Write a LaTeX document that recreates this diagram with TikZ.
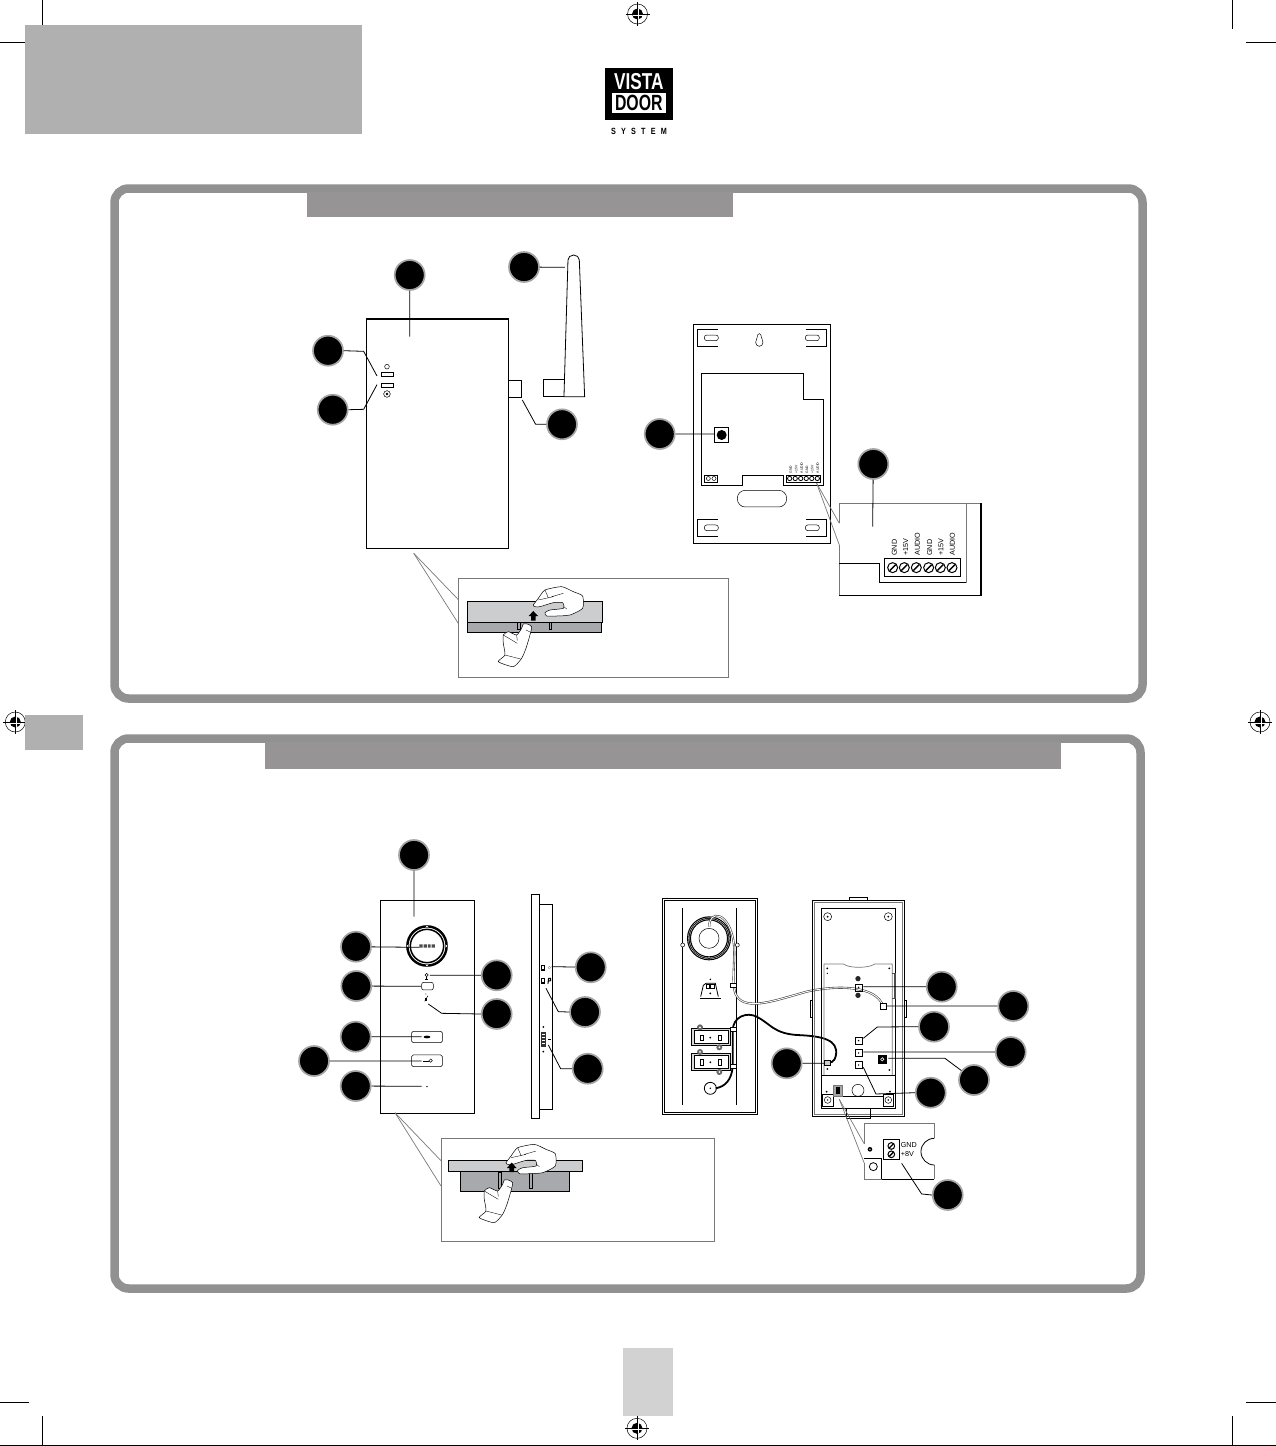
\documentclass[tikz,border=0pt]{standalone}
\usepackage{fontspec}
\setmainfont{Liberation Sans}
\usepackage{xcolor}
\usetikzlibrary{arrows,shapes,positioning}
\definecolor{vdframe}{RGB}{145,145,145}
\definecolor{vdbar}{RGB}{150,148,149}
\definecolor{vdbox}{RGB}{176,176,176}
\definecolor{vdpage}{RGB}{210,210,210}
\definecolor{vdring}{RGB}{165,165,165}
\definecolor{vdplate}{RGB}{204,205,206}
\definecolor{vdplate2}{RGB}{168,169,172}
\definecolor{vdline}{RGB}{120,120,120}
\tikzstyle{callout} = [circle, fill=black, draw=vdring, line width=1.7pt, minimum size=30pt, inner sep=0pt]
\tikzstyle{leader} = [line width=0.8pt, color=black]
\tikzstyle{part} = [line width=0.8pt, draw=black]
\tikzstyle{thin part} = [line width=0.5pt, draw=black]
\tikzstyle{greyline} = [line width=0.7pt, draw=vdline]
\tikzstyle{crop} = [line width=0.9pt, color=black]
\tikzstyle{viewa} = [shift={(290,240)}, x=0.3333pt, y=-0.3333pt]
\tikzstyle{viewb} = [shift={(640,310)}, x=0.3333pt, y=-0.3333pt]
\tikzstyle{viewc} = [shift={(290,830)}, x=0.3333pt, y=-0.3333pt]
\tikzstyle{viewd} = [shift={(650,890)}, x=0.3333pt, y=-0.3333pt]
\tikzset{
  regmark/.pic={
    \draw[line width=0.5pt] (0,0) circle (10pt);
    \fill (0,0) circle (5.5pt);
    \draw[line width=0.8pt] (-12,0) -- (12,0) (0,-12) -- (0,12);
    \draw[white, line width=0.3pt] (-5,1) -- (5,1) (1,-5) -- (1,5);
  },
  tophand/.pic={
    \draw[thin part, fill=white, x=0.3333pt, y=-0.3333pt, tension=0.35] plot[smooth cycle] coordinates {(0,0) (15,-20) (35,-45) (85,-55) (120,-40) (148,-27) (148,10) (110,30) (70,33) (40,33) (35,23) (50,15) (90,10) (88,-7) (60,-7) (20,5) (5,5)};
    \draw[line width=0.35pt, x=0.3333pt, y=-0.3333pt] (35,-45) -- (45,-22) (15,-15) -- (60,-25) (90,-35) -- (55,-25) (92,5) -- (100,12);
  },
  lowhand/.pic={
    \draw[thin part, fill=white, x=0.3333pt, y=-0.3333pt, tension=0.35] plot[smooth cycle] coordinates {(0,0) (13,8) (8,33) (-4,73) (-17,103) (-42,128) (-87,113) (-67,93) (-72,58) (-72,33) (-57,23) (-32,33) (-17,13) (-12,0)};
    \draw[line width=0.35pt, x=0.3333pt, y=-0.3333pt] (-67,93) -- (-20,105) (-4,18) -- (8,24) (-32,33) -- (-30,50) (-72,33) -- (-30,58);
  }
}

\begin{document}
\begin{tikzpicture}[x=1pt, y=-1pt]
\useasboundingbox (0,0) rectangle (1276,1446);

% Printer's marks
\draw[crop] (42,0) -- (42,29) (0,42) -- (29,42);
\draw[crop] (1232,0) -- (1232,29) (1246,42) -- (1276,42);
\draw[crop] (42,1416) -- (42,1446) (0,1402) -- (29,1402);
\draw[crop] (1232,1416) -- (1232,1446) (1246,1402) -- (1276,1402);
\draw[crop] (0,1445.5) -- (1276,1445.5);
\pic at (637.5,14) {regmark};
\pic at (15.3,722) {regmark};
\pic at (1260,722) {regmark};
\pic at (637,1428.3) {regmark};

% Grey blocks
\fill[vdbox] (25,25) rectangle (362,134);
\fill[vdbox] (25,715) rectangle (83,750);
\fill[vdpage] (623,1348) rectangle (673,1416);

% Logo
\fill[black] (605,68.3) rectangle (672.7,120);
\fill[white] (611.7,93.3) rectangle (666,113.3);
\node[text=white, font=\fontsize{23}{23}\selectfont\bfseries, inner sep=0pt] (logovista) at (638.8,81.5) {\scalebox{.75}[1]{VISTA}};
\node[text=black, font=\fontsize{22}{22}\selectfont\bfseries, inner sep=0pt] (logodoor) at (638.8,103.3) {\scalebox{.72}[1]{DOOR}};
\node[font=\fontsize{9}{9}\selectfont\bfseries, inner sep=0pt] (logosystem) at (639,131) {\scalebox{.8}[1]{S\hspace{6.5pt}Y\hspace{6.5pt}S\hspace{6.5pt}T\hspace{6.5pt}E\hspace{6.5pt}M}};

% Frames
\draw[vdframe, line width=8.5pt, rounded corners=14pt] (114.5,188.5) rectangle (1142.5,698.5);
\draw[vdframe, line width=8.5pt, rounded corners=14pt] (114.5,738.5) rectangle (1140.5,1288.5);
\fill[vdbar] (307,192) rectangle (733,217);
\fill[vdbar] (265,742) rectangle (1061,769);

% Receiver front
\node[callout] (rxa) at (409.7,275) {};
\node[callout] (rxb) at (524,267) {};
\node[callout] (rxc) at (328,350.7) {};
\node[callout] (rxd) at (332.7,409.7) {};
\node[callout] (rxe) at (562,424.3) {};
\begin{scope}[viewa]
\draw[part] (230,237) rectangle (655,925);
\draw[line width=1.6pt] (229,237) -- (656,237);
\draw[part] (274,397) rectangle (311,410);
\draw[part] (274,430) rectangle (311,443);
\draw[thin part] (291,380) circle (7);
\draw[thin part] (291,462) circle (10);
\fill (291,462) circle (4);
\draw[part] (655,421) rectangle (694,472);
\draw[part, fill=white] (822,470) -- (884,470) -- (868,60) arc (0:-180:17 and 15) -- cycle;
\draw[part] (822,470) -- (760,470) -- (760,419);
\draw[line width=1.3pt] (760,419) -- (822,419);
\coordinate (rxapoint) at (359,290);
\coordinate (rxbpoint) at (825,82);
\coordinate (rxcpoint) at (261,408);
\coordinate (rxdpoint) at (261,434);
\coordinate (rxepoint) at (697,480);
\coordinate (rxcbend) at (221,334);
\coordinate (rxdbend) at (221,508);
\coordinate (rxebend) at (737,553);
\end{scope}
\draw[leader] (rxa) -- (rxapoint);
\draw[leader] (rxb) -- (rxbpoint);
\draw[leader] (rxc.east) -- (rxcbend) -- (rxcpoint);
\draw[leader] (rxd.east) -- (rxdbend) -- (rxdpoint);
\draw[leader] (rxe.west) -- (rxebend) -- (rxepoint);

% Receiver fixing clip
\coordinate (rxclip) at (413.7,553.3);
\node[draw=vdline, line width=0.8pt, minimum width=269.3pt, minimum height=98.6pt, inner sep=0pt] (rxinset) at (593.3,628) {};
\draw[greyline] (rxclip) -- (458.7,600);
\draw[greyline] (rxclip) -- (458.7,624);
\draw[part, fill=vdplate] (467.3,601.3) rectangle (602.7,622.3);
\draw[part, fill=vdplate2] (467.3,622.3) rectangle (601.7,632.3);
\draw[thin part] (517.3,622.7) rectangle (520.3,629.3);
\draw[thin part] (549,622.7) rectangle (551.7,629.3);
\fill[black] (533.3,611) -- (538,616) -- (535.7,616) -- (535.7,620.5) -- (531,620.5) -- (531,616) -- (528.7,616) -- cycle;
\pic at (533.3,605) {tophand};
\pic at (527.3,624) {lowhand};

% Receiver back
\node[callout] (rxf) at (659.7,434) {};
\begin{scope}[viewb]
\draw[part] (161,44) rectangle (571,699);
\draw[line width=1.5pt] (160,44) -- (572,44);
\foreach \tabx/\taby in {173/57, 173/627} {
  \draw[thin part] (\tabx+60,\taby) -- (\tabx,\taby) -- (\tabx,\taby+51) -- (\tabx+60,\taby+51);
  \draw[thin part, rounded corners=2.5pt] (\tabx+20,\taby+18) rectangle (\tabx+62,\taby+35);
}
\foreach \tabx/\taby in {558/57, 558/627} {
  \draw[thin part] (\tabx-60,\taby) -- (\tabx,\taby) -- (\tabx,\taby+51) -- (\tabx-60,\taby+51);
  \draw[thin part, rounded corners=2.5pt] (\tabx-20,\taby+18) rectangle (\tabx-62,\taby+35);
}
\draw[thin part] (352,80) arc (180:-0:6 and -9);
\draw[thin part] (352,80) -- (347,97) arc (180:0:11 and 12) -- (364,80);
\draw[part] (185,190) -- (490,190) -- (490,267) -- (551,267) -- (551,525) -- (430,525) -- (430,495) -- (308,495) -- (308,525) -- (185,525) -- cycle;
\draw[thin part, rounded corners=8pt] (292,541) rectangle (440,591);
\draw[thin part] (222,352) rectangle (265,397);
\fill (245,375) circle (15);
\draw[part] (193,495) rectangle (233,516);
\foreach \holex in {205,222} \draw[thin part] (\holex,505.5) circle (6);
\draw[part] (440,495) rectangle (541,516);
\foreach \holex in {449,465.6,482.2,498.8,515.4,532} \draw[part] (\holex,505.5) circle (6.5);
\foreach \holex/\holetext in {452/GND,469/+15V,485/AUDIO,501/GND,517/+15V,533/AUDIO}
  \node[rotate=90, anchor=west, font=\fontsize{3.4}{3.4}\selectfont, inner sep=0pt] at (\holex,490) {\holetext};
\coordinate (rxfpoint) at (222,372);
\coordinate (rxtermpoint) at (530,520);
\draw[greyline] (rxtermpoint) -- (598,640);
\draw[greyline] (rxtermpoint) -- (598,705);
% Terminal detail
\draw[greyline] (598,580) -- (1022,580);
\draw[greyline] (978,580) -- (978,818);
\draw[greyline] (598,580) -- (598,640) (598,705) -- (598,855);
\draw[part] (598,760) -- (718,760) -- (718,818) -- (978,818);
\draw[line width=0.7pt] (598,855) -- (1022,855);
\draw[line width=2pt] (1022,580) -- (1022,858);
\draw[part] (733,745) rectangle (962,800);
\foreach \holex in {758,793,829,866,901,936} {
  \draw[line width=1pt] (\holex,773) circle (15);
  \draw[line width=1.4pt] (\holex-9,782) -- (\holex+9,764);
}
\foreach \holex/\holetext in {763/GND,797/+15V,832/AUDIO,869/GND,903/+15V,937/AUDIO}
  \node[rotate=90, anchor=west, font=\fontsize{7.2}{7.2}\selectfont, inner sep=0pt] at (\holex,738) {\holetext};
\coordinate (rxgpoint) at (698,650);
\end{scope}
\node[callout] (rxg) at (873.3,464) {};
\draw[leader] (rxf) -- (rxfpoint);
\draw[leader] (rxg) -- (rxgpoint);

% Door panel front
\node[callout] (dpa) at (414,855) {};
\node[callout] (dpb) at (356,946.7) {};
\node[callout] (dpc) at (356.3,986) {};
\node[callout] (dpd) at (496.7,975.3) {};
\node[callout] (dpe) at (496.7,1014) {};
\node[callout] (dpf) at (355.7,1036.7) {};
\node[callout] (dpg) at (314,1061) {};
\node[callout] (dph) at (355.7,1086) {};
\begin{scope}[viewc]
\draw[part] (272,211) rectangle (553,850);
\draw[line width=2.4pt] (411,348) circle (59);
\draw[line width=1.5pt] (411,348) circle (50);
\foreach \markx/\marky in {411/289, 411/407, 352/348, 470/348}
  \fill[white] (\markx,\marky) circle (3);
\fill[black!70] (388,343) rectangle (398,353) (401,343) rectangle (411,353) (414,343) rectangle (422,353) (425,343) rectangle (435,353);
% Bell and buttons
\draw[thin part] (410,435) circle (5);
\draw[thin part] (410,440) -- (410,449) (405,449) -- (415,449);
\draw[thin part, rounded corners=2pt] (395,457) rectangle (430,480);
\draw[thin part] (414,497) -- (404,514) (408,490) -- (408,494);
\fill (404,504) -- (412,504) -- (412,512) -- (404,512) -- cycle;
\draw[thin part, rounded corners=1.5pt] (365,604) rectangle (457,638);
\fill (411,621) ellipse (10 and 4);
\draw[thin part, rounded corners=1.5pt] (365,675) rectangle (457,710);
\draw[part] (399,693) -- (417,693);
\draw[thin part] (422,692) circle (5);
\fill (411,770) circle (2.5);
\coordinate (dpapoint) at (372,260);
\coordinate (dpbpoint) at (388,352);
\coordinate (dpcpoint) at (393,469);
\coordinate (dpdpoint) at (420,436);
\coordinate (dpepoint) at (415,522);
\coordinate (dpebend) at (455,550);
\coordinate (dpfpoint) at (395,620);
\coordinate (dpgpoint) at (395,693);
\coordinate (dphpoint) at (395,769);
% Side view
\draw[part] (725,193) rectangle (748,865);
\draw[part] (748,222) -- (787,222) -- (787,837) -- (748,837);
\draw[line width=1.3pt] (725,193) -- (748,193);
\draw[line width=1.4pt] (755,406) rectangle (763,420);
\draw[line width=0.4pt, black!40] (778,413) circle (4);
\draw[line width=1.4pt] (755,445) rectangle (763,459);
\draw[line width=1.1pt] (774,461) -- (776,445) -- (782,445) -- (782,452) -- (776,453);
\fill[black!80] (753,605) rectangle (768,652);
\foreach \rungy in {612,621,630,639} \fill[white] (757,\rungy) rectangle (764,\rungy+4);
\fill (760,591) circle (3) (760,665) circle (3);
\draw[thin part] (775,627) -- (782,627);
\coordinate (dpipoint) at (785,410);
\coordinate (dpjpoint) at (768,475);
\coordinate (dpjbend) at (805,545);
\coordinate (dpkpoint) at (775,645);
\coordinate (dpkbend) at (812,716);
\end{scope}
\node[callout] (dpi) at (590.7,967.3) {};
\node[callout] (dpj) at (585,1012) {};
\node[callout] (dpk) at (587.7,1068.7) {};
\draw[leader] (dpa) -- (dpapoint);
\draw[leader] (dpb) -- (dpbpoint);
\draw[leader] (dpc) -- (dpcpoint);
\draw[leader] (dpd) -- (dpdpoint);
\draw[leader] (dpe.west) -- (dpebend) -- (dpepoint);
\draw[leader] (dpf) -- (dpfpoint);
\draw[leader] (dpg) -- (dpgpoint);
\draw[leader] (dph) -- (dphpoint);
\draw[leader] (dpi) -- (dpipoint);
\draw[leader] (dpj.west) -- (dpjbend) -- (dpjpoint);
\draw[leader] (dpk.west) -- (dpkbend) -- (dpkpoint);

% Door panel fixing clip
\coordinate (dpclip) at (395,1112.7);
\node[draw=vdline, line width=0.8pt, minimum width=273.3pt, minimum height=102.7pt, inner sep=0pt] (dpinset) at (577.7,1189.7) {};
\draw[greyline] (dpclip) -- (441,1160.7);
\draw[greyline] (dpclip) -- (441,1186);
\draw[part, fill=vdplate2] (460.3,1171.3) rectangle (569.7,1191.3);
\draw[part, fill=vdplate] (448.3,1160.3) rectangle (582.7,1171.3);
\draw[thin part] (498.3,1172.3) rectangle (501.7,1188.3);
\draw[thin part] (529.3,1172.3) rectangle (532.7,1188.3);
\pic at (506,1162.7) {tophand};
\fill[black] (511.7,1162.5) -- (516.5,1168) -- (514,1168) -- (514,1172) -- (509.4,1172) -- (509.4,1168) -- (507,1168) -- cycle;
\pic at (508.3,1180) {lowhand};

% Door panel back, two halves
\begin{scope}[viewd]
\draw[part] (38,26) rectangle (322,672);
\draw[thin part] (44,32) rectangle (316,666);
\draw[part] (98,54) -- (98,644) (260,54) -- (260,644);
\draw[line width=4pt, fill=white] (177,145) circle (60);
\draw[white, line width=0.3pt] (177,145) circle (62);
\draw[white, line width=0.3pt] (177,145) circle (58);
\draw[thin part] (177,145) circle (30);
\draw[thin part, fill=white] (98,165) circle (6) (262,165) circle (6);
\draw[thin part] (170,284) rectangle (192,296);
\fill (176,285) rectangle (182,295);
\draw[part] (160,286) -- (168,280) -- (196,280) -- (205,320) (160,286) -- (152,320);
\draw[part] (149,324) -- (213,324);
\fill (181,268) circle (2.5) (181,310) circle (3);
\foreach \boxy in {416,490} {
  \draw[part, fill=black!15] (124,\boxy) rectangle (240,\boxy+50);
  \draw[thin part, fill=white] (133,\boxy+6) rectangle (234,\boxy+44);
  \draw[part] (150,\boxy+19) rectangle (159,\boxy+36);
  \draw[part] (204,\boxy+19) rectangle (213,\boxy+36);
  \fill (181,\boxy+27) circle (3);
  \fill[black!60] (150,\boxy-4) circle (9) (208,\boxy+56) circle (9);
  \fill[white] (150,\boxy-4) circle (3) (208,\boxy+56) circle (3);
}
\draw[part, fill=white] (181,595) circle (18);
\fill (181,595) circle (2.5);
% Cables
\draw[line width=2.1pt, black!75] (178,110) .. controls (175,60) and (240,60) .. (252,165) .. controls (256,230) and (240,300) .. (265,325) .. controls (300,360) and (380,330) .. (470,305) .. controls (560,285) and (680,285) .. (700,350);
\draw[line width=0.9pt, white] (178,110) .. controls (175,60) and (240,60) .. (252,165) .. controls (256,230) and (240,300) .. (265,325) .. controls (300,360) and (380,330) .. (470,305) .. controls (560,285) and (680,285) .. (700,350);
\draw[line width=1.8pt] (197,595) .. controls (225,590) and (245,570) .. (248,530) -- (248,420) .. controls (250,380) and (290,365) .. (320,380) .. controls (360,400) and (370,430) .. (440,435) .. controls (520,438) and (565,450) .. (558,495) .. controls (553,520) and (540,518) .. (530,518);
\foreach \tiex/\tiey in {240/280, 240/411, 240/523}
  \draw[thin part, fill=white] (\tiex,\tiey) rectangle (\tiex+18,\tiey+13);
% Rear half
\draw[part] (488,30) rectangle (763,680);
\draw[greyline] (494,36) rectangle (757,674);
\draw[line width=1.4pt] (514,56) rectangle (737,655);
\draw[thin part, fill=white] (598,22) rectangle (652,30);
\draw[thin part, fill=white] (481,330) rectangle (488,382);
\draw[thin part, fill=white] (763,330) rectangle (769,382);
\draw[thin part] (590,655) -- (590,684) -- (660,684) -- (660,655);
\foreach \screwx in {533,715} {
  \draw[thin part] (\screwx,80) circle (12);
  \fill (\screwx,80) circle (3);
  \draw[part, fill=white] (\screwx-16,614) rectangle (\screwx+16,648);
  \draw[thin part] (\screwx,630) circle (10);
  \fill (\screwx,630) circle (2.5);
}
\draw[greyline] (522,555) -- (522,222) -- (580,222) arc (160:20:50 and 15) -- (727,222) -- (727,555);
\draw[part] (514,555) -- (737,555);
\draw[thin part] (549,648) -- (549,620) -- (699,620) -- (699,648);
\draw[thin part] (624,601) circle (18);
\draw[greyline, fill=black!35] (550,585) rectangle (578,620);
\fill (558,592) rectangle (570,613);
\fill (530,605) circle (3) (720,605) circle (3);
\fill (532,235) circle (3) (532,250) circle (2) (718,235) circle (3) (718,540) circle (3) (532,537) circle (3);
\draw[line width=1.4pt, black!70] (725,250) -- (735,250) -- (735,325) -- (725,325);
\foreach \pady in {282,442,479,515} {
  \draw[part] (615,\pady) rectangle (637,\pady+21);
  \fill (626,\pady+10) circle (2.5);
}
\fill[black!85] (624,266) circle (8) (624,316) circle (8);
\fill (684,495) rectangle (710,522);
\draw[white, line width=0.6pt] (697,508) circle (5);
\draw[thin part, fill=white] (692,340) rectangle (708,358);
\draw[thin part, fill=black!20] (523,510) rectangle (540,527);
% Leader ends
\coordinate (dbapoint) at (640,290);
\coordinate (dbbpoint) at (708,348);
\coordinate (dbcpoint) at (640,445);
\coordinate (dbcbend) at (682,411);
\coordinate (dbdpoint) at (640,486);
\coordinate (dbepoint) at (715,505);
\coordinate (dbebend) at (885,505);
\coordinate (dbfpoint) at (640,532);
\coordinate (dbfbend) at (678,612);
\coordinate (dbgpoint) at (525,520);
\coordinate (dbhpoint) at (755,820);
\coordinate (dbhbend) at (815,912);
% Power terminal detail
\coordinate (dbclip) at (568,628);
\draw[greyline] (dbclip) -- (643,762);
\draw[greyline] (dbclip) -- (643,820);
\draw[greyline] (643,762) -- (643,700) -- (853,700) -- (853,745) (853,825) -- (853,868);
\draw[greyline] (643,820) -- (643,868) -- (695,868);
\draw[part] (695,868) -- (853,868);
\draw[part] (853,745) arc (-90:-270:40);
\draw[part] (643,805) -- (695,805) -- (695,868);
\draw[part, fill=white] (670,830) circle (12);
\fill (660,778) circle (7);
\fill[white] (660,778) circle (2);
\draw[part] (700,748) rectangle (748,808);
\foreach \screwy in {768,793} {
  \draw[line width=1pt] (724,\screwy) circle (10);
  \draw[line width=1.3pt] (717,\screwy+7) -- (731,\screwy-7);
}
\node[anchor=west, font=\fontsize{7.2}{7.2}\selectfont, inner sep=0pt] (gndlabel) at (752,765) {GND};
\node[anchor=west, font=\fontsize{7.2}{7.2}\selectfont, inner sep=0pt] (pluslabel) at (752,793) {+8V};
\end{scope}
\node[callout] (dba) at (941.7,986.7) {};
\node[callout] (dbb) at (1013.3,1006) {};
\node[callout] (dbc) at (934,1026.7) {};
\node[callout] (dbd) at (1010.7,1052) {};
\node[callout] (dbe) at (974,1080) {};
\node[callout] (dbf) at (930.7,1092.7) {};
\node[callout] (dbg) at (786.7,1063.3) {};
\node[callout] (dbh) at (947.7,1195) {};
\draw[leader] (dba) -- (dbapoint);
\draw[leader] (dbb) -- (dbbpoint);
\draw[leader] (dbc.west) -- (dbcbend) -- (dbcpoint);
\draw[leader] (dbd) -- (dbdpoint);
\draw[leader] (dbe) -- (dbebend) -- (dbepoint);
\draw[leader] (dbf.west) -- (dbfbend) -- (dbfpoint);
\draw[leader] (dbg) -- (dbgpoint);
\draw[leader] (dbh.west) -- (dbhbend) -- (dbhpoint);
\end{tikzpicture}
\end{document}
